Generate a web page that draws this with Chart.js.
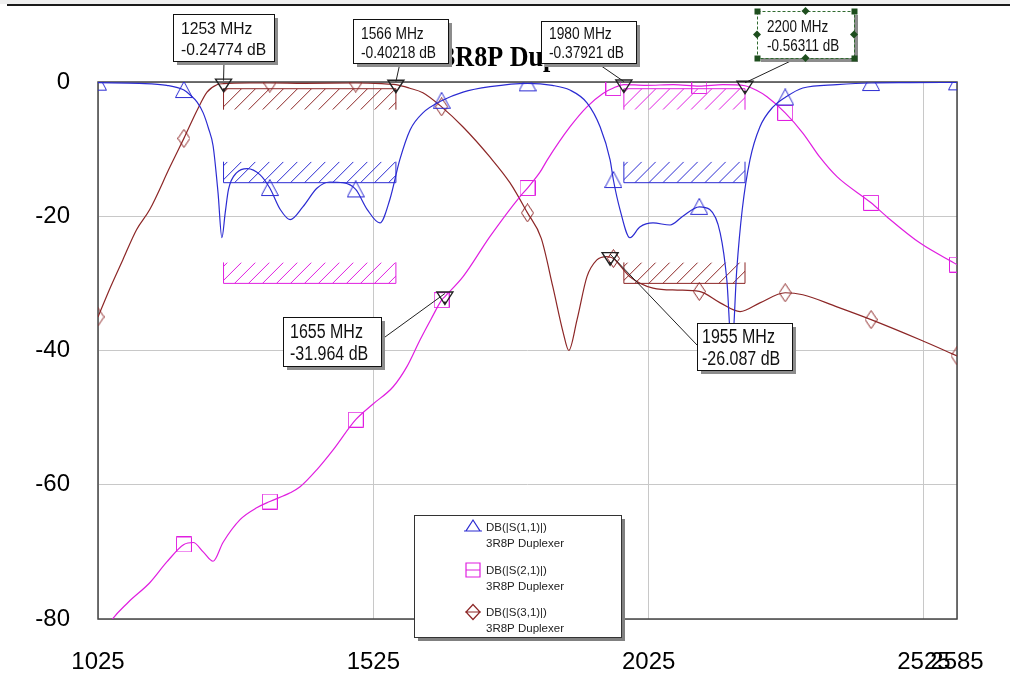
<!DOCTYPE html>
<html>
<head>
<meta charset="utf-8">
<script src="https://cdn.jsdelivr.net/npm/chart.js@4.4.1/dist/chart.umd.min.js"></script>
<style>
  body { margin: 0; background: #fff; }
  canvas { display: block; }
</style>
</head>
<body>
<canvas id="duplexerChart" width="1010" height="678"></canvas>
<script>
// Datos (frecuencia en MHz, nivel en dB)
const freqS11 = [1025, 1100, 1150, 1181, 1192, 1205, 1216, 1226, 1234, 1243, 1250, 1256, 1262, 1277, 1296, 1319, 1337,
  1356, 1374, 1397, 1423, 1446, 1470, 1493, 1514, 1537, 1555, 1573, 1592, 1615, 1649, 1688, 1737, 1805, 1850,
  1882, 1913, 1937, 1955, 1961, 1973, 1991, 2009, 2033, 2064, 2087, 2117, 2136, 2155, 2167, 2176, 2185, 2195,
  2209, 2227, 2251, 2273, 2305, 2367, 2429, 2500, 2585];
const dbS11 = [-0.1, -0.2, -0.5, -1.2, -1.9, -3.0, -4.6, -7.0, -9.5, -16.5, -23.2, -19.5, -16.0, -13.5, -12.9, -13.8, -15.8,
  -19.0, -20.5, -18.6, -15.8, -14.9, -15.0, -16.0, -19.0, -21.0, -17.5, -11.6, -7.1, -4.6, -2.8, -1.5, -0.7, -0.2, -0.5,
  -1.2, -3.1, -6.7, -11.6, -14.6, -19.0, -23.2, -21.6, -21.0, -21.3, -20.0, -18.6, -19.0, -22.5, -29.5, -40.0, -28.0, -19.0,
  -11.6, -6.7, -3.7, -2.3, -0.9, -0.4, -0.15, -0.1, -0.05];

const freqS21 = [1025, 1047, 1080, 1119, 1150, 1181, 1198, 1216, 1234, 1252, 1283, 1314, 1337, 1374, 1392, 1423, 1452,
  1493, 1524, 1561, 1586, 1610, 1630, 1649, 1655, 1688, 1737, 1791, 1805, 1828, 1841, 1882, 1913, 1942, 1961, 1980,
  2020, 2070, 2117, 2160, 2200, 2220, 2240, 2273, 2305, 2336, 2367, 2429, 2458, 2518, 2585];
const dbS21 = [-84, -80.5, -77.5, -74.6, -71.5, -68.9, -68.6, -70.0, -71.4, -68.6, -65.2, -63.4, -62.5, -61.2, -60.3, -57.7, -54.8,
  -50.3, -48.0, -45.4, -42.4, -38.4, -35.3, -32.5, -31.96, -29.0, -23.0, -17.1, -15.8, -13.4, -11.6, -6.7, -3.7, -1.7, -0.9, -0.38,
  -0.5, -0.4, -0.6, -0.4, -0.56, -1.2, -2.2, -4.6, -7.6, -11.2, -14.1, -18.0, -20.1, -24.0, -27.2];

const freqS31 = [1025, 1048, 1070, 1095, 1119, 1156, 1181, 1205, 1223, 1241, 1253, 1300, 1337, 1400, 1493, 1540, 1566,
  1590, 1615, 1649, 1688, 1737, 1773, 1805, 1830, 1851, 1870, 1880, 1895, 1913, 1931, 1949, 1955, 1961, 1991, 2033,
  2077, 2117, 2155, 2191, 2227, 2273, 2305, 2367, 2429, 2518, 2585];
const dbS31 = [-35, -30.5, -26.5, -22.0, -19.0, -12.6, -8.4, -4.2, -1.5, -0.4, -0.25, -0.15, -0.15, -0.2, -0.15, -0.25, -0.4,
  -0.9, -1.6, -3.7, -6.7, -11.2, -15.0, -19.5, -23.3, -30.5, -37.4, -40.0, -35.4, -29.0, -26.5, -26.0, -26.09, -26.3, -29.0, -30.7,
  -31.0, -31.2, -32.9, -34.2, -32.9, -31.4, -31.7, -33.5, -35.4, -38.4, -40.8];

// Frecuencias donde se dibujan los simbolos de cada traza
const symbolFreqs = [1025, 1181, 1337, 1493, 1649, 1805, 1961, 2117, 2273, 2429, 2585];
const xTickValues = [1025, 1525, 2025, 2525, 2585];

// Marcadores con etiqueta
const markerFreqs = [1253, 1566, 1980, 2200, 1655, 1955];
const markerDb = [-0.24774, -0.40218, -0.37921, -0.56311, -31.964, -26.087];

// Mascaras de especificacion
const specStart = [1253, 1253, 1253, 1980, 1980, 1980];
const specEnd = [1566, 1566, 1566, 2200, 2200, 2200];
const specLimit = [-1, -15, -30, -1, -15, -30];
const specType = ['min', 'max', 'max', 'min', 'max', 'max'];
const specSeries = [2, 0, 1, 1, 0, 2];

const legendNames = ['DB(|S(1,1)|)', 'DB(|S(2,1)|)', 'DB(|S(3,1)|)'];
const legendSub = '3R8P Duplexer';

const colors = ['#2b2bd2', '#e01ee0', '#8c2626'];

// Cajas de los marcadores (posicion en pixeles)
const markerBoxes = [
  { x: 173, y: 14, w: 101, h: 47, tx: 181, b1: 34, b2: 55, size: 17, sx: 0.92, ax: 224, ay: 61 },
  { x: 353, y: 19, w: 95, h: 44, tx: 361, b1: 39, b2: 58, size: 16, sx: 0.86, ax: 400, ay: 63 },
  { x: 541, y: 21, w: 95, h: 42, tx: 549, b1: 39, b2: 58, size: 16, sx: 0.86, ax: 597, ay: 63 },
  { x: 757, y: 11, w: 97, h: 47, tx: 767, b1: 32, b2: 51, size: 16, sx: 0.84, ax: 797, ay: 58, selected: true },
  { x: 283, y: 317, w: 98, h: 49, tx: 290, b1: 338, b2: 360, size: 20, sx: 0.8, ax: 385, ay: 337 },
  { x: 697, y: 323, w: 95, h: 47, tx: 702, b1: 343, b2: 365, size: 20, sx: 0.8, ax: 697, ay: 345 }
];

// Simbolos huecos estilo AWR
function makeSymbol(kind, color) {
  const c = document.createElement('canvas');
  const g = c.getContext('2d');
  if (kind === 'tri') {
    c.width = 18; c.height = 18;
    g.beginPath(); g.moveTo(9, 0.5); g.lineTo(17.5, 16.5); g.lineTo(0.5, 16.5); g.closePath();
  } else if (kind === 'sq') {
    c.width = 16; c.height = 16;
    g.beginPath(); g.rect(0.5, 0.5, 15, 15);
  } else {
    c.width = 13; c.height = 19;
    g.beginPath(); g.moveTo(6.5, 0.5); g.lineTo(12.5, 9.5); g.lineTo(6.5, 18.5); g.lineTo(0.5, 9.5); g.closePath();
  }
  g.strokeStyle = color; g.lineWidth = 1; g.stroke();
  return c;
}
const symbols = [makeSymbol('tri', colors[0]), makeSymbol('sq', colors[1]), makeSymbol('dia', colors[2])];

function symbolRadius(ctx) {
  return ctx.raw && symbolFreqs.includes(ctx.raw.x) ? 8 : 0;
}

function series(freqs, dbs, i) {
  return {
    label: legendNames[i],
    data: freqs.map((f, k) => ({ x: f, y: dbs[k] })),
    borderColor: colors[i],
    borderWidth: 1.2,
    pointStyle: symbols[i],
    pointRadius: symbolRadius,
    cubicInterpolationMode: 'monotone',
    fill: false
  };
}

function drawText(c, s, x, y, font, sx, align) {
  c.save();
  c.translate(x, y);
  c.scale(sx, 1);
  c.font = font;
  c.textAlign = align || 'left';
  c.textBaseline = 'alphabetic';
  c.fillText(s, 0, 0);
  c.restore();
}

function drawSpec(c, x0, x1, yLine, dir, color) {
  const depth = 21;
  const yEnd = yLine + dir * depth;
  const yTop = Math.min(yLine, yEnd), yBot = Math.max(yLine, yEnd);
  c.save();
  c.strokeStyle = color;
  c.lineWidth = 1;
  c.beginPath();
  c.moveTo(x0, yEnd); c.lineTo(x0, yLine); c.lineTo(x1, yLine); c.lineTo(x1, yEnd);
  c.stroke();
  c.beginPath();
  c.rect(x0, yTop, x1 - x0, yBot - yTop);
  c.clip();
  c.beginPath();
  for (let x = x0 - depth + 4; x < x1 + depth; x += 14) {
    c.moveTo(x, yBot); c.lineTo(x + depth, yTop);
  }
  c.stroke();
  c.restore();
}

function drawLegendSymbol(c, i, x, y) {
  c.save();
  c.strokeStyle = colors[i];
  c.lineWidth = 1.2;
  c.beginPath();
  if (i === 0) {
    c.moveTo(x, y - 7); c.lineTo(x + 7, y + 4); c.lineTo(x - 7, y + 4); c.closePath();
    c.moveTo(x - 9, y + 4); c.lineTo(x + 9, y + 4);
  } else if (i === 1) {
    c.rect(x - 7, y - 7, 14, 14);
    c.moveTo(x - 7, y); c.lineTo(x + 7, y);
  } else {
    c.moveTo(x, y - 7.5); c.lineTo(x + 7, y); c.lineTo(x, y + 7.5); c.lineTo(x - 7, y); c.closePath();
    c.moveTo(x - 8, y); c.lineTo(x + 8, y);
  }
  c.stroke();
  c.restore();
}

const awrDecor = {
  id: 'awrDecor',
  beforeDraw(chart) {
    const c = chart.ctx;
    c.save();
    c.fillStyle = '#ffffff';
    c.fillRect(0, 0, chart.width, chart.height);
    c.fillStyle = '#efefef';
    c.fillRect(0, 0, chart.width, 4);
    c.strokeStyle = '#1a1a1a';
    c.lineWidth = 2;
    c.beginPath(); c.moveTo(7, 5); c.lineTo(chart.width, 5); c.stroke();
    c.restore();
  },
  beforeDatasetsDraw(chart) {
    const c = chart.ctx;
    const a = chart.chartArea;
    const xs = chart.scales.x, ys = chart.scales.y;
    c.save();
    c.strokeStyle = '#444';
    c.lineWidth = 1.5;
    c.strokeRect(a.left, a.top, a.right - a.left, a.bottom - a.top);
    c.restore();
    specLimit.forEach((lim, i) => {
      drawSpec(c, xs.getPixelForValue(specStart[i]), xs.getPixelForValue(specEnd[i]),
        ys.getPixelForValue(lim), specType[i] === 'min' ? 1 : -1, colors[specSeries[i]]);
    });
  },
  afterDraw(chart) {
    const c = chart.ctx;
    const a = chart.chartArea;
    const xs = chart.scales.x, ys = chart.scales.y;

    // titulo (queda parcialmente tapado por las cajas)
    c.fillStyle = '#000';
    drawText(c, '3R8P Duplexer', (a.left + a.right) / 2, 66, 'bold 30px "Liberation Serif"', 0.87, 'center');

    // lineas guia y triangulos de los marcadores
    markerFreqs.forEach((f, i) => {
      const px = xs.getPixelForValue(f), py = ys.getPixelForValue(markerDb[i]);
      const b = markerBoxes[i];
      c.save();
      c.strokeStyle = '#222';
      c.lineWidth = 1;
      c.beginPath(); c.moveTo(b.ax, b.ay); c.lineTo(px, py - 3); c.stroke();
      c.lineWidth = 1.4;
      c.beginPath();
      c.moveTo(px - 8, py - 4.5); c.lineTo(px + 8, py - 4.5); c.lineTo(px, py + 8); c.closePath();
      c.stroke();
      c.fillStyle = '#222';
      c.fillRect(px - 1, py + 5, 2, 2);
      c.restore();
    });

    // cajas de texto de los marcadores
    markerFreqs.forEach((f, i) => {
      const b = markerBoxes[i];
      c.save();
      c.fillStyle = '#8c8c8c';
      c.fillRect(b.x + 4, b.y + 4, b.w, b.h);
      c.fillStyle = '#fff';
      c.fillRect(b.x, b.y, b.w, b.h);
      if (b.selected) {
        c.strokeStyle = '#2f6a2f';
        c.setLineDash([3, 2]);
        c.lineWidth = 1;
        c.strokeRect(b.x + 0.5, b.y + 0.5, b.w, b.h);
        c.setLineDash([]);
        c.fillStyle = '#1e4e1e';
        [[b.x, b.y], [b.x + b.w, b.y], [b.x, b.y + b.h], [b.x + b.w, b.y + b.h]].forEach(p => {
          c.fillRect(p[0] - 2.5, p[1] - 2.5, 6, 6);
        });
        [[b.x + b.w / 2, b.y], [b.x + b.w / 2, b.y + b.h], [b.x, b.y + b.h / 2], [b.x + b.w, b.y + b.h / 2]].forEach(p => {
          c.beginPath();
          c.moveTo(p[0], p[1] - 4); c.lineTo(p[0] + 4, p[1]); c.lineTo(p[0], p[1] + 4); c.lineTo(p[0] - 4, p[1]);
          c.closePath(); c.fill();
        });
      } else {
        c.strokeStyle = '#111';
        c.lineWidth = 1;
        c.strokeRect(b.x + 0.5, b.y + 0.5, b.w, b.h);
      }
      c.fillStyle = '#111';
      const font = b.size + 'px "Liberation Sans"';
      drawText(c, f + ' MHz', b.tx, b.b1, font, b.sx);
      drawText(c, markerDb[i] + ' dB', b.tx, b.b2, font, b.sx);
      c.restore();
    });

    // leyenda
    const L = { x: 414, y: 515, w: 207, h: 122 };
    c.save();
    c.fillStyle = '#808080';
    c.fillRect(L.x + 4, L.y + 4, L.w, L.h);
    c.fillStyle = '#fff';
    c.fillRect(L.x, L.y, L.w, L.h);
    c.strokeStyle = '#333';
    c.lineWidth = 1;
    c.strokeRect(L.x + 0.5, L.y + 0.5, L.w, L.h);
    const rowY = [527, 570, 612];
    legendNames.forEach((name, i) => {
      drawLegendSymbol(c, i, 473, rowY[i]);
      c.fillStyle = '#222';
      drawText(c, name, 486, rowY[i] + 4, '11.5px "Liberation Sans"', 1);
      drawText(c, legendSub, 486, rowY[i] + 20, '11.5px "Liberation Sans"', 1);
    });
    c.restore();
  }
};

const config = {
  type: 'line',
  data: {
    datasets: [series(freqS11, dbS11, 0), series(freqS21, dbS21, 1), series(freqS31, dbS31, 2)]
  },
  options: {
    responsive: false,
    animation: false,
    events: [],
    layout: { padding: { top: 82, right: 53, left: 0, bottom: 0 } },
    scales: {
      x: {
        type: 'linear',
        min: 1025,
        max: 2585,
        afterBuildTicks: s => { s.ticks = xTickValues.map(v => ({ value: v })); },
        afterFit: s => { s.height = 59; s.paddingLeft = 0; s.paddingRight = 0; },
        ticks: {
          autoSkip: false,
          maxRotation: 0,
          padding: 29,
          color: '#000',
          font: { family: '"Liberation Sans"', size: 24 },
          callback: v => String(v)
        },
        grid: { color: '#c8c8c8', lineWidth: 1, drawTicks: false },
        border: { display: false }
      },
      y: {
        min: -80,
        max: 0,
        afterFit: s => { s.width = 98; },
        ticks: {
          stepSize: 20,
          padding: 28,
          color: '#000',
          font: { family: '"Liberation Sans"', size: 24 },
          callback: v => String(v)
        },
        grid: { color: '#c8c8c8', lineWidth: 1, drawTicks: false },
        border: { display: false }
      }
    },
    plugins: {
      legend: { display: false },
      tooltip: { enabled: false },
      title: { display: false }
    }
  },
  plugins: [awrDecor]
};

const duplexerChart = new Chart(document.getElementById('duplexerChart'), config);
</script>
</body>
</html>
